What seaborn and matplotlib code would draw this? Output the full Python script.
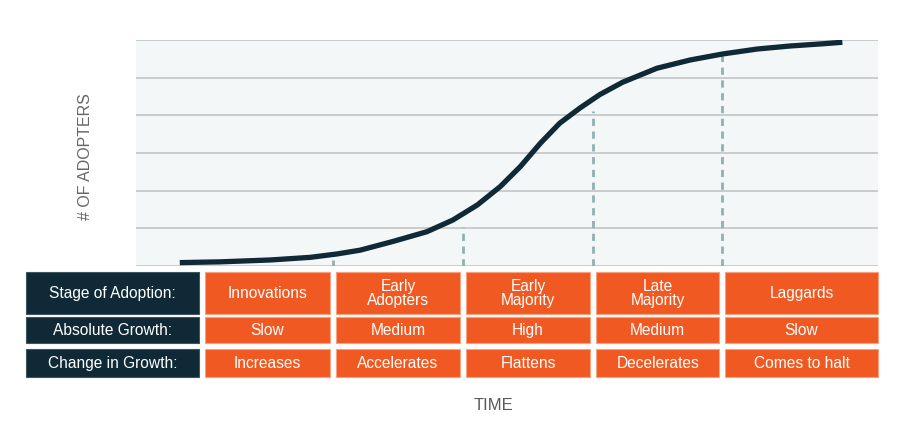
#! /usr/bin/env python3
# coding: utf-8
"""
S-curve of technology adoption with a stage table underneath

Output:
  - out.png
"""
import numpy as np
import pandas as pd
import matplotlib.pyplot as plt
import seaborn as sb
from matplotlib.axes import Axes
from matplotlib.patches import Rectangle

# Curve (time 0-100, adopters in grid units 0-6)
time = [5.9, 11.3, 18.1, 23.5, 27.1, 30.2, 34.6, 39.2, 42.7, 46.0,
        49.1, 51.8, 54.5, 57.1, 59.8, 62.5, 65.6, 70.2, 74.7, 79.1,
        83.7, 88.1, 92.6, 95.2]
adopters = [0.09, 0.11, 0.16, 0.23, 0.32, 0.42, 0.65, 0.91, 1.22, 1.62,
            2.11, 2.64, 3.26, 3.79, 4.19, 4.55, 4.88, 5.25, 5.47, 5.63,
            5.76, 5.84, 5.90, 5.94]

# Stage boundaries (dashed lines) and how high each dashed line reaches
stage_bounds = [26.5, 44.1, 61.6, 79.0]
bound_tops = [0.16, 1.04, 4.11, 5.60]

row_labels = ['Stage of Adoption:', 'Absolute Growth:', 'Change in Growth:']
stages = ['Innovations', 'Early\nAdopters', 'Early\nMajority', 'Late\nMajority', 'Laggards']
growth = ['Slow', 'Medium', 'High', 'Medium', 'Slow']
change = ['Increases', 'Accelerates', 'Flattens', 'Decelerates', 'Comes to halt']

NAVY = '#0f2a36'
ORANGE = '#f05a22'
DASH = '#8fb1b3'
GRID = '#c6c9ca'
FONT = ['Liberation Sans', 'DejaVu Sans']


def plot_curve(ax: Axes):
    data = pd.DataFrame({'time': time, 'adopters': adopters})
    sb.lineplot(data=data, x='time', y='adopters', color=NAVY, linewidth=3.8,
                solid_capstyle='butt', solid_joinstyle='round', ax=ax, zorder=4)
    ax.vlines(stage_bounds, 0, bound_tops, colors=DASH, linestyles=(0, (2.6, 2.0)),
              linewidth=2.0, zorder=3)
    ax.set_xlim(0, 100)
    ax.set_ylim(0, 6)
    ax.set_yticks(np.arange(0, 7))
    ax.set_xticks([])
    ax.tick_params(left=False, labelleft=False)
    ax.set_facecolor('#f4f7f8')
    ax.grid(axis='y', color=GRID, linewidth=1.3)
    for s in ax.spines.values():
        s.set_visible(False)
    ax.set_xlabel('')
    ax.set_ylabel('')


def plot_table(ax: Axes):
    rows = [(272, 314), (317, 343), (349, 377)]
    starts = [9.3] + [b + 0.4 for b in stage_bounds]
    ends = [b - 0.4 for b in stage_bounds] + [100]
    ax.set_xlim(0, 100)
    ax.set_ylim(382, 268)
    ax.axis('off')

    for (top, bot), label, cells in zip(rows, row_labels, [stages, growth, change]):
        ax.add_patch(Rectangle((-14.8, top), 23.3, bot - top, facecolor=NAVY,
                               edgecolor='#3c5560', linewidth=0.8, clip_on=False))
        ax.text(-3.15, (top + bot) / 2 + 0.5, label, color='white', fontsize=11.2,
                family=FONT, ha='center', va='center', clip_on=False)
        for x0, x1, txt in zip(starts, ends, cells):
            ax.add_patch(Rectangle((x0, top), x1 - x0, bot - top, facecolor=ORANGE,
                                   edgecolor='#f6a17f', linewidth=0.8, clip_on=False))
            ax.text((x0 + x1) / 2, (top + bot) / 2 + 0.8, txt, color='white',
                    fontsize=11.2, family=FONT, ha='center', va='center',
                    linespacing=0.92, clip_on=False)


if __name__ == '__main__':
    sb.set_style('white')
    plt.rcParams['font.family'] = FONT

    fig = plt.figure(figsize=(9, 4.24), dpi=100)
    ax = fig.add_axes([136 / 900, 1 - 266 / 424, 742 / 900, 226 / 424])
    tab = fig.add_axes([136 / 900, 1 - 382 / 424, 742 / 900, 114 / 424])

    plot_curve(ax)
    plot_table(tab)

    fig.text(86 / 900, 1 - 157 / 424, '# OF ADOPTERS', rotation=90, color='#666666',
             fontsize=11.5, ha='center', va='center')
    fig.text(494 / 900, 1 - 406 / 424, 'TIME', color='#5a5a5a',
             fontsize=12, ha='center', va='center')

    fig.savefig('out.png', dpi=100)
